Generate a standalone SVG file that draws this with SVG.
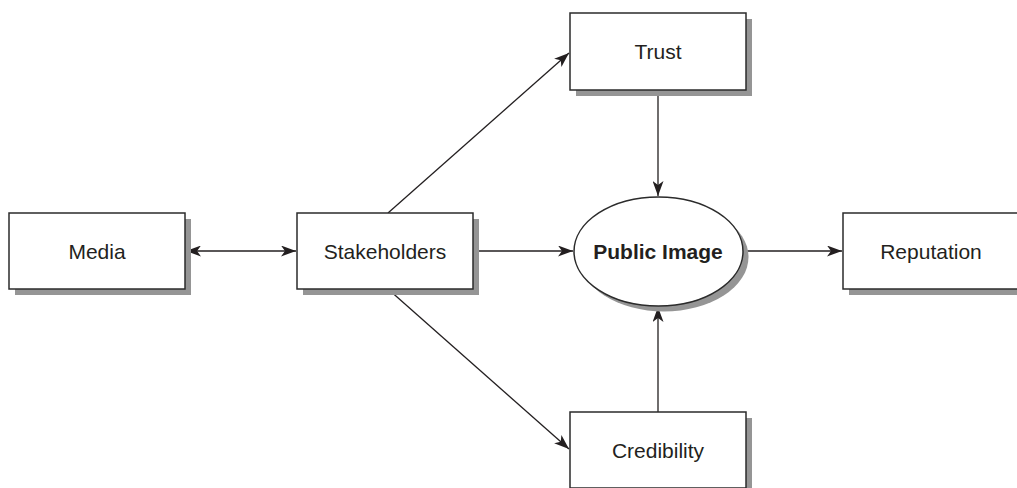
<svg xmlns="http://www.w3.org/2000/svg" width="1017" height="488" viewBox="0 0 1017 488">
<defs>
<style>
.box{fill:#fff;stroke:#2b2b2b;stroke-width:1.5}
.sh{fill:#959595}
.lbl{font-family:"Liberation Sans",Arial,sans-serif;font-size:21px;fill:#231f20;text-anchor:middle}
.bold{font-weight:bold}
.con{stroke:#231f20;stroke-width:1.3;fill:none}
</style>
<marker id="ah" markerWidth="15" markerHeight="11" viewBox="0 0 15 11" refX="15" refY="5.5" orient="auto-start-reverse" markerUnits="userSpaceOnUse">
<path d="M0,0 L15,5.5 L0,11 L4,5.5 Z" fill="#231f20"/>
</marker>
</defs>
<rect width="1017" height="488" fill="#fff"/>
<g id="connectors">
<line class="con" x1="186" y1="251" x2="296" y2="251" marker-start="url(#ah)" marker-end="url(#ah)"/>
<line class="con" x1="474" y1="251" x2="573" y2="251" marker-end="url(#ah)"/>
<line class="con" x1="743" y1="251" x2="842" y2="251" marker-end="url(#ah)"/>
<line class="con" x1="388" y1="213" x2="569" y2="53" marker-end="url(#ah)"/>
<line class="con" x1="388" y1="289" x2="569" y2="449" marker-end="url(#ah)"/>
<line class="con" x1="658" y1="90" x2="658" y2="196" marker-end="url(#ah)"/>
<line class="con" x1="658" y1="412" x2="658" y2="307" marker-end="url(#ah)"/>
</g>
<g id="media">
<rect class="sh" x="15" y="219" width="176" height="76"/>
<rect class="box" x="9" y="213" width="176" height="76"/>
<text class="lbl" x="97" y="258.5">Media</text>
</g>
<g id="stakeholders">
<rect class="sh" x="303" y="219" width="176" height="76"/>
<rect class="box" x="297" y="213" width="176" height="76"/>
<text class="lbl" x="385" y="258.5">Stakeholders</text>
</g>
<g id="trust">
<rect class="sh" x="576" y="19" width="176" height="77"/>
<rect class="box" x="570" y="13" width="176" height="77"/>
<text class="lbl" x="658" y="59">Trust</text>
</g>
<g id="public-image">
<ellipse class="sh" cx="664" cy="257" rx="84.5" ry="54.5"/>
<ellipse class="box" cx="658.5" cy="251.5" rx="84.5" ry="54.5"/>
<text class="lbl bold" x="658" y="258.5">Public Image</text>
</g>
<g id="reputation">
<rect class="sh" x="849" y="219" width="176" height="76"/>
<rect class="box" x="843" y="213" width="176" height="76"/>
<text class="lbl" x="931" y="258.5">Reputation</text>
</g>
<g id="credibility">
<rect class="sh" x="576" y="418" width="176" height="76"/>
<rect class="box" x="570" y="412" width="176" height="76"/>
<text class="lbl" x="658" y="458">Credibility</text>
</g>
</svg>
